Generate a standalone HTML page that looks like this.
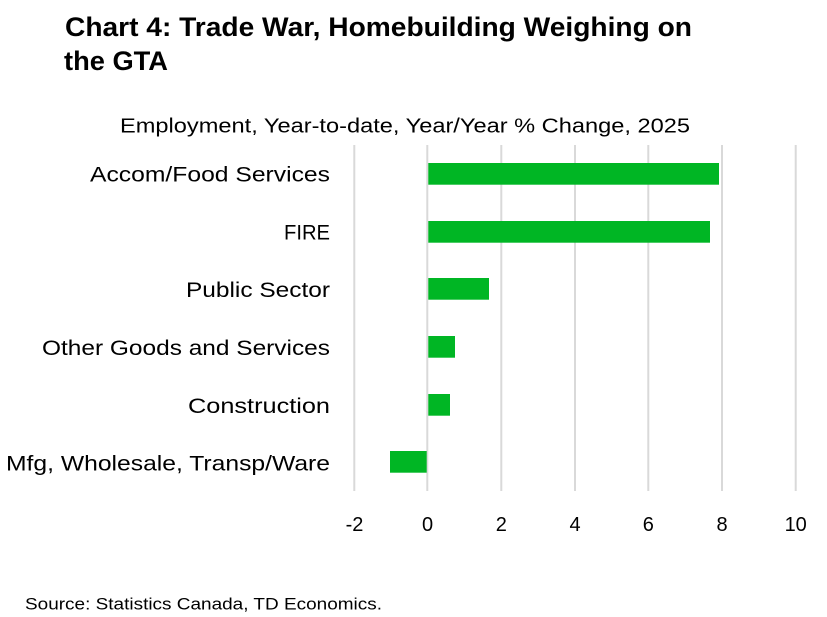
<!DOCTYPE html>
<html>
<head>
<meta charset="utf-8">
<style>
  html, body { margin: 0; padding: 0; background: #ffffff; }
  body { width: 827px; height: 617px; overflow: hidden; }
  svg { display: block; }
  text { font-family: "Liberation Sans", "DejaVu Sans", sans-serif; fill: #000; }
</style>
</head>
<body>
<svg width="827" height="617" viewBox="0 0 827 617" xmlns="http://www.w3.org/2000/svg">
  <rect x="0" y="0" width="827" height="617" fill="#ffffff"/>

  <!-- Title -->
  <text x="65" y="36" font-size="27" font-weight="bold" textLength="627" lengthAdjust="spacingAndGlyphs">Chart 4: Trade War, Homebuilding Weighing on</text>
  <text x="64" y="70" font-size="27" font-weight="bold" textLength="104" lengthAdjust="spacingAndGlyphs">the GTA</text>

  <!-- Subtitle -->
  <text x="120" y="132.5" font-size="20.5" textLength="570" lengthAdjust="spacingAndGlyphs">Employment,  Year-to-date, Year/Year % Change, 2025</text>

  <!-- Gridlines -->
  <g stroke="#d9d9d9" stroke-width="2">
    <line x1="354.3" y1="145" x2="354.3" y2="491"/>
    <line x1="427.3" y1="145" x2="427.3" y2="491"/>
    <line x1="501.3" y1="145" x2="501.3" y2="491"/>
    <line x1="575" y1="145" x2="575" y2="491"/>
    <line x1="648.3" y1="145" x2="648.3" y2="491"/>
    <line x1="722" y1="145" x2="722" y2="491"/>
    <line x1="795.7" y1="145" x2="795.7" y2="491"/>
  </g>

  <!-- Bars -->
  <g fill="#00b624">
    <rect x="428.3" y="163" width="290.7" height="21.7"/>
    <rect x="428.3" y="221" width="281.7" height="21.7"/>
    <rect x="428.3" y="278" width="60.7" height="21.7"/>
    <rect x="428.3" y="336" width="26.7" height="21.7"/>
    <rect x="428.3" y="394" width="21.7" height="21.7"/>
    <rect x="390" y="451" width="36.7" height="21.7"/>
  </g>

  <!-- Category labels -->
  <g font-size="21" text-anchor="end">
    <text x="330" y="181.5" textLength="240" lengthAdjust="spacingAndGlyphs">Accom/Food Services</text>
    <text x="330" y="239.5" textLength="46" lengthAdjust="spacingAndGlyphs">FIRE</text>
    <text x="330" y="297" textLength="144" lengthAdjust="spacingAndGlyphs">Public Sector</text>
    <text x="330" y="355" textLength="288" lengthAdjust="spacingAndGlyphs">Other Goods and Services</text>
    <text x="330" y="413" textLength="142" lengthAdjust="spacingAndGlyphs">Construction</text>
    <text x="330" y="470.5" textLength="324" lengthAdjust="spacingAndGlyphs">Mfg, Wholesale, Transp/Ware</text>
  </g>

  <!-- X tick labels -->
  <g font-size="20" text-anchor="middle">
    <text x="354.5" y="531">-2</text>
    <text x="427.5" y="531">0</text>
    <text x="501.3" y="531">2</text>
    <text x="575" y="531">4</text>
    <text x="648.3" y="531">6</text>
    <text x="722" y="531">8</text>
    <text x="795.7" y="531">10</text>
  </g>

  <!-- Source -->
  <text x="25" y="609.5" font-size="17" textLength="357" lengthAdjust="spacingAndGlyphs">Source: Statistics Canada, TD Economics.</text>
</svg>
</body>
</html>
